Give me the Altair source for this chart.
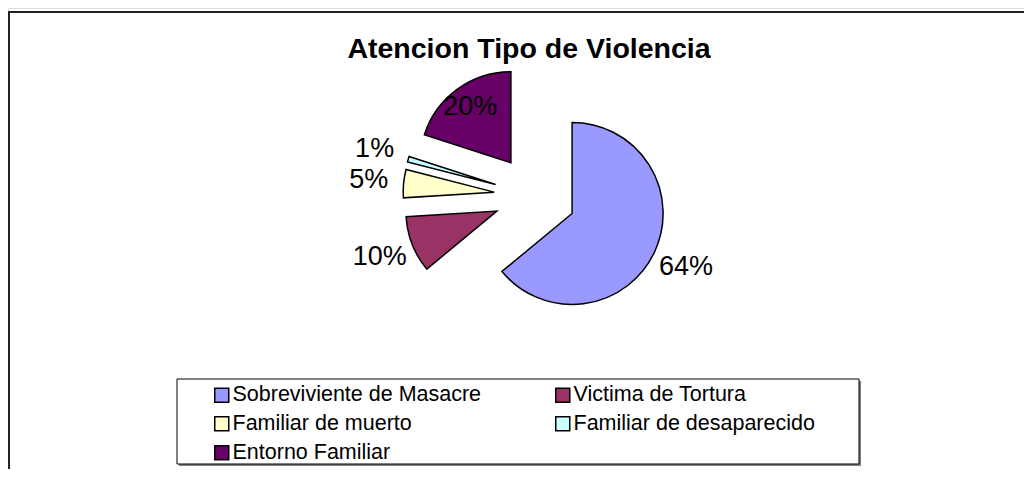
import altair as alt
import pandas as pd

# ---- data ----
categorias = ["Sobreviviente de Masacre", "Victima de Tortura", "Familiar de muerto",
              "Familiar de desaparecido", "Entorno Familiar"]
porcentajes = [64, 10, 5, 1, 20]
colores = ["#9999FF", "#993366", "#FFFFCC", "#CCFFFF", "#660066"]
titulo = "Atencion Tipo de Violencia"

df = pd.DataFrame({"categoria": categorias, "pct": porcentajes,
                   "orden": list(range(len(categorias)))})

# ---- layout / style ----
W, H = 1016, 461
CX, CY = 527, 188      # pie centre before explosion
R = 91                 # pie radius
EXPLODE = 41           # explosion distance
LABEL_OUT = 126
LABEL_IN = 69
FONT = "Liberation Sans, Arial, sans-serif"

base = alt.Chart(df).transform_window(
    cum="sum(pct)", sort=[alt.SortField("orden")]
).transform_joinaggregate(
    total="sum(pct)"
).transform_calculate(
    a1="2*PI*datum.cum/datum.total",
    a0="2*PI*(datum.cum-datum.pct)/datum.total",
    frac="datum.pct/datum.total",
).transform_calculate(
    mid="(datum.a0+datum.a1)/2"
).transform_calculate(
    cx=f"{CX} + {EXPLODE}*sin(datum.mid)",
    cy=f"{CY} - {EXPLODE}*cos(datum.mid)",
    lr=f"(datum.frac >= 0.15 && datum.frac < 0.5) ? {LABEL_IN} : {LABEL_OUT}",
).transform_calculate(
    lx="datum.cx + datum.lr*sin(datum.mid)",
    ly="datum.cy - datum.lr*cos(datum.mid)",
)

arcs = base.mark_arc(radius=R, stroke="black", strokeWidth=1.5, strokeJoin="miter",
                     opacity=1).encode(
    theta=alt.Theta("a0:Q", scale=None),
    theta2="a1:Q",
    x=alt.X("cx:Q", scale=None),
    y=alt.Y("cy:Q", scale=None),
    color=alt.Color(
        "categoria:N",
        scale=alt.Scale(domain=categorias, range=colores),
        sort=categorias,
        legend=alt.Legend(
            title=None, orient="none", legendX=203, legendY=376, columns=2,
            direction="horizontal", padding=0,
            symbolType="square", symbolSize=196, symbolStrokeColor="black",
            symbolStrokeWidth=1.5, symbolOpacity=1,
            labelFont=FONT, labelFontSize=21.5, labelColor="black",
            labelOffset=0, columnPadding=70, rowPadding=6, labelLimit=500,
        ),
    ),
)

labels = base.mark_text(font=FONT, fontSize=27, baseline="middle", align="center",
                        color="black").encode(
    x=alt.X("lx:Q", scale=None),
    y=alt.Y("ly:Q", scale=None),
    text=alt.Text("frac:Q", format=".0%"),
)

one = pd.DataFrame({"t": [titulo]})

title_layer = alt.Chart(one).mark_text(
    font=FONT, fontSize=28.5, fontWeight="bold", align="center", baseline="alphabetic",
    color="black"
).encode(text="t:N", x=alt.value(521), y=alt.value(50))

frame = alt.Chart(one).mark_rect(fillOpacity=0, stroke="#222222", strokeWidth=2).encode(
    x=alt.value(1), y=alt.value(4), x2=alt.value(1300), y2=alt.value(900))

legend_shadow = alt.Chart(one).mark_rect(color="#808080").encode(
    x=alt.value(171), y=alt.value(373), x2=alt.value(853), y2=alt.value(458))

legend_box = alt.Chart(one).mark_rect(fill="white", stroke="black", strokeWidth=1).encode(
    x=alt.value(169), y=alt.value(371), x2=alt.value(851), y2=alt.value(456))

chart = alt.layer(frame, legend_shadow, legend_box, arcs, labels, title_layer).properties(
    width=W, height=H, autosize="none", padding=0
).configure_view(stroke="transparent").configure(background="white")

chart.save("out.html", embed_options={"renderer": "svg", "actions": False})
